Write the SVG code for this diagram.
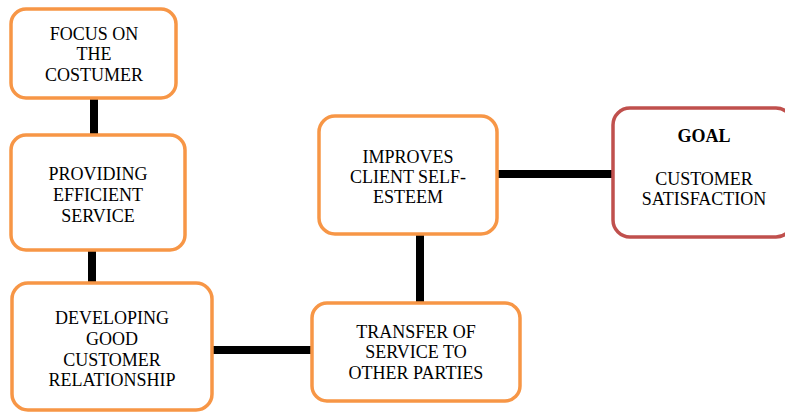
<svg xmlns="http://www.w3.org/2000/svg" width="785" height="412" viewBox="0 0 785 412">
<style>
.box{fill:#fff;stroke:#F79646;stroke-width:3.5}
.goal{fill:#fff;stroke:#C0504D;stroke-width:3.5}
.c{stroke:#000;stroke-width:8;fill:none}
svg text{font-family:'Liberation Serif',serif !important;font-size:18px;text-anchor:middle;fill:#000}
</style>
<rect width="785" height="412" fill="#fff"/>
<g id="connectors">
<line class="c" x1="94" y1="98" x2="94" y2="135"/>
<line class="c" x1="92" y1="250" x2="92" y2="283"/>
<line class="c" x1="212" y1="350" x2="312" y2="350"/>
<line class="c" x1="420" y1="234" x2="420" y2="303"/>
<line class="c" x1="497" y1="174" x2="613" y2="174"/>
</g>
<g id="n1">
<rect class="box" x="11" y="9" width="165" height="89" rx="15"/>
<text style="font-family:'Liberation Serif',serif !important" x="94" y="39.5">FOCUS ON</text>
<text style="font-family:'Liberation Serif',serif !important" x="94" y="60">THE</text>
<text style="font-family:'Liberation Serif',serif !important" x="94" y="81">COSTUMER</text>
</g>
<g id="n2">
<rect class="box" x="11" y="135" width="174" height="115" rx="15"/>
<text style="font-family:'Liberation Serif',serif !important" x="98" y="180">PROVIDING</text>
<text style="font-family:'Liberation Serif',serif !important" x="98" y="201">EFFICIENT</text>
<text style="font-family:'Liberation Serif',serif !important" x="98" y="221.5">SERVICE</text>
</g>
<g id="n3">
<rect class="box" x="12" y="283" width="200" height="127" rx="16"/>
<text style="font-family:'Liberation Serif',serif !important" x="112" y="324">DEVELOPING</text>
<text style="font-family:'Liberation Serif',serif !important" x="112" y="345">GOOD</text>
<text style="font-family:'Liberation Serif',serif !important" x="112" y="366">CUSTOMER</text>
<text style="font-family:'Liberation Serif',serif !important" x="112" y="386">RELATIONSHIP</text>
</g>
<g id="n4">
<rect class="box" x="319" y="116" width="178" height="118" rx="16"/>
<text style="font-family:'Liberation Serif',serif !important" x="408" y="163">IMPROVES</text>
<text style="font-family:'Liberation Serif',serif !important" x="408" y="183">CLIENT SELF-</text>
<text style="font-family:'Liberation Serif',serif !important" x="408" y="203">ESTEEM</text>
</g>
<g id="n5">
<rect class="box" x="312" y="303" width="208" height="98" rx="15"/>
<text style="font-family:'Liberation Serif',serif !important" x="416" y="338">TRANSFER OF</text>
<text style="font-family:'Liberation Serif',serif !important" x="416" y="358">SERVICE TO</text>
<text style="font-family:'Liberation Serif',serif !important" x="416" y="379">OTHER PARTIES</text>
</g>
<g id="n6">
<rect class="goal" x="613" y="108" width="180" height="129" rx="17"/>
<text style="font-family:'Liberation Serif',serif !important;font-weight:bold" x="704" y="142">GOAL</text>
<text style="font-family:'Liberation Serif',serif !important" x="704" y="185">CUSTOMER</text>
<text style="font-family:'Liberation Serif',serif !important" x="704" y="205">SATISFACTION</text>
</g>
</svg>
